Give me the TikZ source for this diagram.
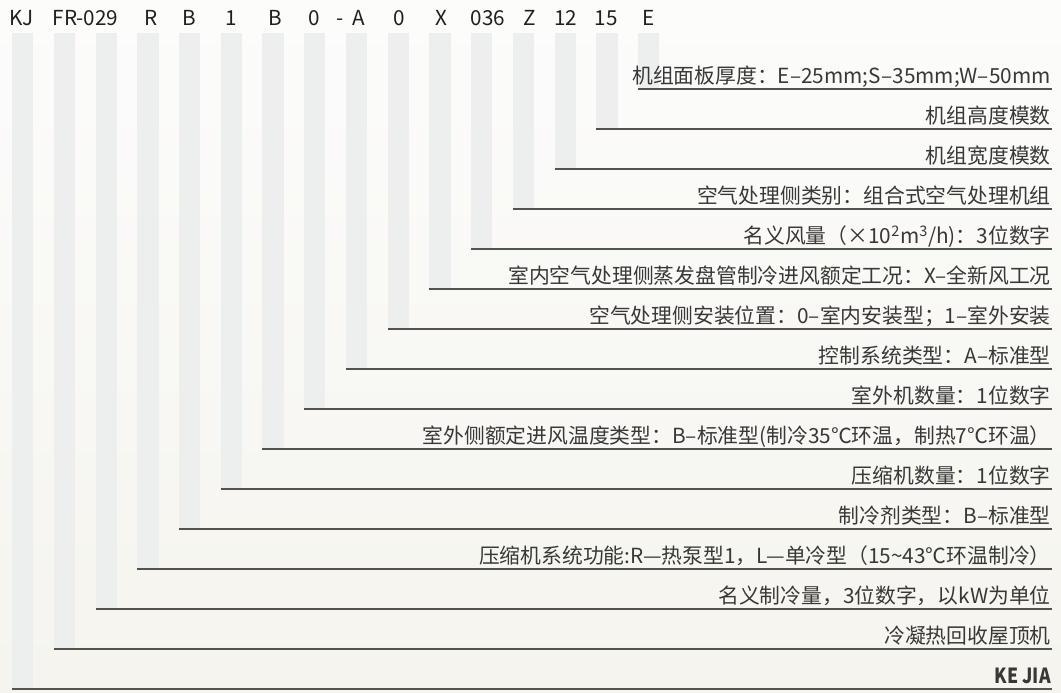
\documentclass[tikz,border=0pt]{standalone}
\usepackage{fontspec}
\setmainfont{Noto Sans CJK SC}
\usepackage{tikz}
\usetikzlibrary{calc}
\usetikzlibrary{positioning}

\definecolor{bgtop}{HTML}{FCFCFB}
\definecolor{bgbot}{HTML}{F5F4EE}
\definecolor{barc}{HTML}{EDEFEF}
\definecolor{rulec}{HTML}{55514D}
\definecolor{descc}{HTML}{383838}
\definecolor{codec}{HTML}{231F20}

\begin{document}
\begin{tikzpicture}[x=0.75pt,y=-0.75pt]
        \tikzstyle{bar}=[anchor=north west, inner sep=0, outer sep=0, minimum width=16pt, fill=barc]
        \tikzstyle{rule}=[line width=1.5pt, draw=rulec]
        \tikzstyle{code}=[anchor=base, inner sep=0, text=codec, font=\fontsize{15.5}{18}\selectfont]
        \tikzstyle{desc}=[anchor=base east, inner sep=0, text=descc, font=\fontsize{15.6}{18}\selectfont]
        
        \newcommand{\degc}{℃}
        
        \shade[top color=bgtop, bottom color=bgbot] (0,0) rectangle (1061,693);
        \useasboundingbox (0,0) rectangle (1061,693);
        
        \node (b0) [bar, minimum height=492pt] at (12,33) {};
        \node (b1) [bar, minimum height=462pt] at (53.7,33) {};
        \node (b2) [bar, minimum height=432pt] at (95.5,33) {};
        \node (b3) [bar, minimum height=402pt] at (137.2,33) {};
        \node (b4) [bar, minimum height=372pt] at (178.9,33) {};
        \node (b5) [bar, minimum height=342pt] at (220.7,33) {};
        \node (b6) [bar, minimum height=312pt] at (262.4,33) {};
        \node (b7) [bar, minimum height=282pt] at (304.1,33) {};
        \node (b8) [bar, minimum height=252pt] at (345.8,33) {};
        \node (b9) [bar, minimum height=222pt] at (387.6,33) {};
        \node (b10) [bar, minimum height=192pt] at (429.3,33) {};
        \node (b11) [bar, minimum height=162pt] at (471,33) {};
        \node (b12) [bar, minimum height=132pt] at (512.8,33) {};
        \node (b13) [bar, minimum height=102pt] at (554.5,33) {};
        \node (b14) [bar, minimum height=72pt] at (596.2,33) {};
        \node (b15) [bar, minimum height=42pt] at (638,33) {};
        
        \node (c0) [code] at (21.3,25) {KJ};
        \node (c1) [code] at (85.5,25) {FR-029};
        \node (c3) [code] at (151,25) {R};
        \node (c4) [code] at (189.7,25) {B};
        \node (c5) [code] at (231.7,25) {1};
        \node (c6) [code] at (275,25) {B};
        \node (c7) [code] at (314.7,25) {0};
        \node (cd) [code] at (340,25) {-};
        \node (c8) [code] at (359,25) {A};
        \node (c9) [code] at (399.3,25) {0};
        \node (c10) [code] at (441,25) {X};
        \node (c11) [code] at (488,25) {036};
        \node (c12) [code] at (529.5,25) {Z};
        \node (c13) [code] at (565.8,25) {12};
        \node (c14) [code] at (606,25) {15};
        \node (c15) [code] at (648.7,25) {E};
        
        \coordinate (e0) at (1052,689);
        \coordinate (e1) at (1052,649);
        \coordinate (e2) at (1052,609);
        \coordinate (e3) at (1052,569);
        \coordinate (e4) at (1052,529);
        \coordinate (e5) at (1052,489);
        \coordinate (e6) at (1052,449);
        \coordinate (e7) at (1052,409);
        \coordinate (e8) at (1052,369);
        \coordinate (e9) at (1052,329);
        \coordinate (e10) at (1052,289);
        \coordinate (e11) at (1052,249);
        \coordinate (e12) at (1052,209);
        \coordinate (e13) at (1052,169);
        \coordinate (e14) at (1052,129);
        \coordinate (e15) at (1052,89);
        
        \draw[rule] (b0.south west)--(e0);
        \draw[rule] (b1.south west)--(e1);
        \draw[rule] (b2.south west)--(e2);
        \draw[rule] (b3.south west)--(e3);
        \draw[rule] (b4.south west)--(e4);
        \draw[rule] (b5.south west)--(e5);
        \draw[rule] (b6.south west)--(e6);
        \draw[rule] (b7.south west)--(e7);
        \draw[rule] (b8.south west)--(e8);
        \draw[rule] (b9.south west)--(e9);
        \draw[rule] (b10.south west)--(e10);
        \draw[rule] (b11.south west)--(e11);
        \draw[rule] (b12.south west)--(e12);
        \draw[rule] (b13.south west)--(e13);
        \draw[rule] (b14.south west)--(e14);
        \draw[rule] (b15.south west)--(e15);
        
        \node (d0) [desc, font=\fontsize{15.6}{18}\selectfont\bfseries, xscale=0.85, transform shape] at ($(e0)+(-1,-6)$) {KE JIA};
        \node (d1) [desc] at ($(e1)+(-1,-6)$) {冷凝热回收屋顶机};
        \node (d2) [desc] at ($(e2)+(-1,-6)$) {名义制冷量，3位数字，以kW为单位};
        \node (d3) [desc] at ($(e3)+(-1,-6)$) {压缩机系统功能:R—热泵型1，L—单冷型（15\textasciitilde43\degc 环温制冷）};
        \node (d4) [desc] at ($(e4)+(-1,-6)$) {制冷剂类型：B–标准型};
        \node (d5) [desc] at ($(e5)+(-1,-6)$) {压缩机数量：1位数字};
        \node (d6) [desc] at ($(e6)+(-1,-6)$) {室外侧额定进风温度类型：B–标准型(制冷35\degc 环温，制热7\degc 环温）};
        \node (d7) [desc] at ($(e7)+(-1,-6)$) {室外机数量：1位数字};
        \node (d8) [desc] at ($(e8)+(-1,-6)$) {控制系统类型：A–标准型};
        \node (d9) [desc] at ($(e9)+(-1,-6)$) {空气处理侧安装位置：0–室内安装型；1–室外安装};
        \node (d10) [desc] at ($(e10)+(-1,-6)$) {室内空气处理侧蒸发盘管制冷进风额定工况：X–全新风工况};
        \node (d11) [desc] at ($(e11)+(-1,-6)$) {名义风量（×10\textsuperscript{2}m\textsuperscript{3}/h)：3位数字};
        \node (d12) [desc] at ($(e12)+(-1,-6)$) {空气处理侧类别：组合式空气处理机组};
        \node (d13) [desc] at ($(e13)+(-1,-6)$) {机组宽度模数};
        \node (d14) [desc] at ($(e14)+(-1,-6)$) {机组高度模数};
        \node (d15) [desc] at ($(e15)+(-1,-6)$) {机组面板厚度：E–25mm;S–35mm;W–50mm};
        
    \end{tikzpicture}
\end{document}
